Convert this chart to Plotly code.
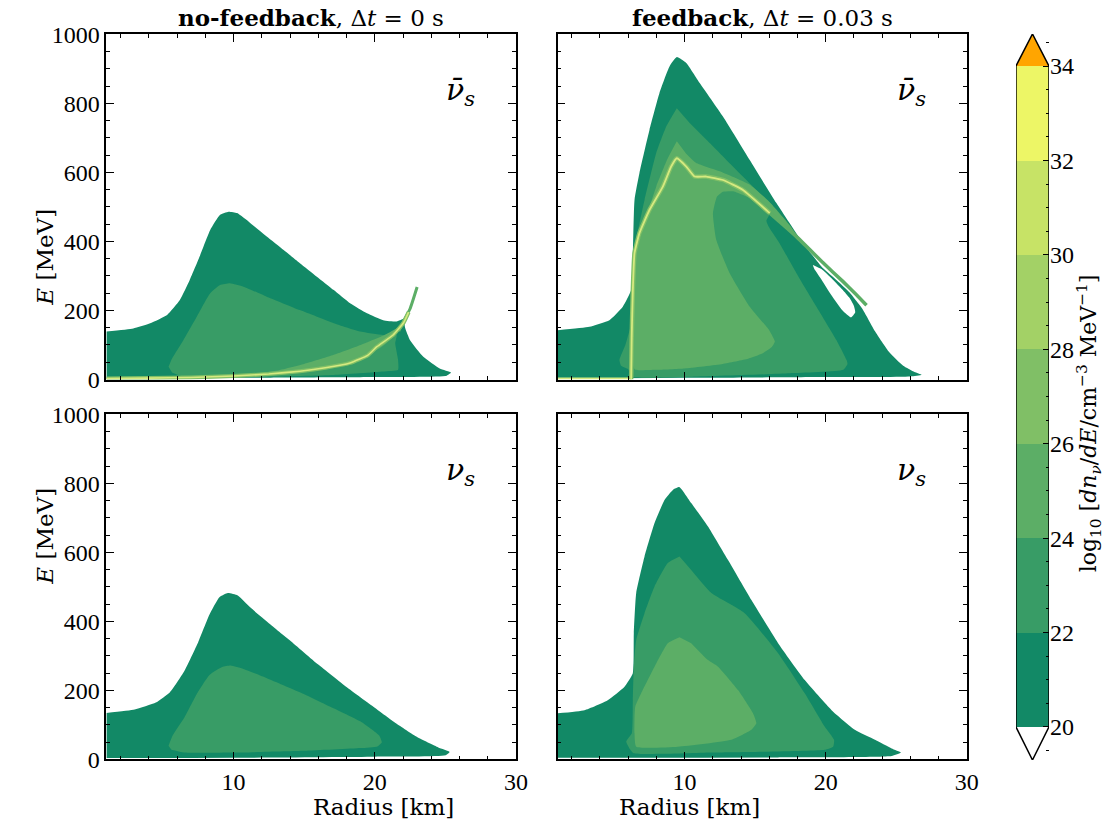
import plotly.graph_objects as go

TEXT_FONT = "DejaVu Serif"
TICK_FONT = "Liberation Serif"

# ---- colour scale (contour levels of log10 dn/dE) ----
LEVELS = [20, 22, 24, 26, 28, 30, 32]
LEVEL_COLORS = ['#128966', '#389c66', '#5cae66', '#80bf66', '#a3d166', '#c7e366', '#edf666']
OVER_COLOR = '#ffa500'
CB_TICKS = [20, 22, 24, 26, 28, 30, 32, 34]

# ---- panel titles / labels ----
COL_TITLES = ['<b>no-feedback</b>, Δ<i>t</i> = 0 s', '<b>feedback</b>, Δ<i>t</i> = 0.03 s']
ROW_LABELS = ['<i>ν\u0304</i><sub><i>s</i></sub>', '<i>ν</i><sub><i>s</i></sub>']

# ---- top-left: no-feedback, anti-nu_s ----
TL_L20_R = [1, 2.9, 4.1, 5.3, 6.2, 6.9, 7.6, 8.35, 9.05, 9.65, 10.25, 11.2, 12.35, 13.55, 14.7, 15.9, 17.1,
            18.25, 19.45, 20.6, 21.55, 22.05, 22.15, 22.5, 23.44, 24.6, 25.4, 25.1, 20, 12, 5, 1]
TL_L20_E = [139, 148, 163, 187, 230, 288, 356, 433, 477, 486, 482, 453, 414, 375, 337, 298, 259,
            221, 192, 172, 168, 175, 150, 114, 66, 32, 20, 11, 7, 5, 3, 2]
TL_L22_R = [5.4, 5.65, 6.45, 7.4, 8.35, 9.05, 9.75, 10.7, 12.35, 14.7, 17.1, 18.95, 20.6, 21.55, 21.45,
            21.65, 21.65, 20.6, 17.1, 12.35, 7.65, 6.45, 5.65]
TL_L22_E = [37, 61, 114, 182, 250, 274, 279, 269, 240, 201, 163, 139, 129, 129, 105,
            57, 28, 23, 13, 8, 6, 8, 20]
TL_L24_R = [7, 10, 13, 15, 17, 19, 20.5, 21.6, 22.05, 21.6, 20.5, 19, 17, 14.7, 12, 9, 7]
TL_L24_E = [5, 10, 25, 45, 70, 100, 125, 150, 172, 135, 95, 62, 38, 20, 12, 7, 5]
TL_RIDGE_R = [1, 4, 7, 10, 12.5, 14.7, 16.5, 18.25, 19.5, 20.15, 21.3, 22.05, 22.4]
TL_RIDGE_E = [3, 4, 6, 10, 16, 24, 34, 48, 70, 95, 129, 165, 195]
TL_SPIKE_R = [21.7, 22.05, 22.5, 23.0]
TL_SPIKE_E = [140, 170, 205, 268]

# ---- top-right: feedback, anti-nu_s ----
TR_L20_R = [1, 3.25, 4.67, 5.62, 6.21, 6.33, 6.45, 6.8, 7.51, 8.22, 8.93, 9.45, 10.12, 11.07, 12.72, 14.62,
            16.51, 18.4, 19.82, 20.8, 21.7, 22.6, 23.5, 24.5, 25.5, 26.3, 26.8, 26, 20, 10, 1]
TR_L20_E = [143, 153, 172, 211, 259, 356, 520, 598, 723, 830, 907, 934, 917, 859, 762, 636,
            511, 395, 322, 287, 252, 205, 140, 80, 40, 22, 14, 9, 7, 5, 3]
TR_HOLE_R = [19.1, 19.7, 20.5, 21.2, 21.7, 22.0, 22.1, 21.8, 21.2, 20.4, 19.7, 19.2, 19.1]
TR_HOLE_E = [332, 320, 290, 260, 236, 214, 195, 180, 200, 245, 290, 320, 330]
TR_L22_R = [9.45, 8.7, 7.99, 7.16, 6.57, 6.33, 6.29, 6.2, 5.8, 5.38, 5.5, 6.0, 6.3, 10.36, 17.46, 21.25,
            21.55, 21.48, 20.77, 19.35, 17.93, 16.8, 16.0, 15.8, 16.3, 15.56, 13.67, 11.78, 10.36]
TR_L22_E = [786, 733, 656, 520, 404, 308, 250, 160, 100, 57, 40, 30, 8, 8, 18, 28,
            45, 57, 114, 211, 308, 390, 440, 460, 500, 530, 607, 685, 743]
TR_L24_R = [9.45, 8.8, 8.0, 7.2, 6.6, 6.45, 6.4, 6.4, 6.45, 8, 10, 12.7, 14.5, 15.5, 16.2, 16.4, 16.0,
            14.62, 13.2, 12.25, 12.01, 12.3, 12.72, 13.5, 14.5, 15.5, 16.5, 17.5, 18.5, 17.5, 16.0, 14.6,
            12.7, 10.8, 10.1]
TR_L24_E = [690, 640, 560, 460, 370, 300, 200, 100, 30, 28, 32, 45, 60, 75, 95, 110, 143,
            211, 308, 404, 482, 530, 544, 545, 528, 500, 465, 425, 385, 445, 515, 565,
            600, 628, 655]
TR_RIDGE_R = [6.21, 6.25, 6.33, 6.45, 6.8, 7.51, 8.46, 9.05, 9.45, 10.12, 10.71, 11.54, 12.72, 14.14, 16.04]
TR_RIDGE_E = [0, 120, 259, 366, 424, 491, 559, 617, 641, 617, 588, 588, 578, 549, 482]
TR_SPIKE_R = [14.14, 16.04, 17.93, 19.82, 21.2, 22.2, 22.9]
TR_SPIKE_E = [549, 482, 414, 338, 285, 245, 215]
TR_BASE_R = [1, 6.2]
TR_BASE_E = [3, 3]

# ---- bottom-left: no-feedback, nu_s ----
BL_L20_R = [1, 3, 4.5, 5.5, 6.5, 7.5, 8.3, 9.0, 9.6, 10.3, 11.2, 12.5, 14, 16, 18, 20, 21.5, 23, 24.5,
            25.3, 25, 20, 10, 1]
BL_L20_E = [135, 145, 165, 195, 255, 340, 420, 470, 482, 475, 440, 395, 345, 275, 210, 150, 105, 65, 35,
            22, 12, 8, 5, 4]
BL_L22_R = [5.4, 5.7, 6.5, 7.4, 8.3, 9.2, 9.8, 10.7, 12.4, 14.7, 17, 19, 20.3, 20.5, 20.2, 19, 15, 10,
            6.5, 5.6]
BL_L22_E = [40, 70, 120, 190, 245, 268, 272, 262, 235, 195, 150, 110, 70, 50, 38, 33, 25, 20, 20, 28]

# ---- bottom-right: feedback, nu_s ----
BR_L20_R = [1, 2.9, 4.55, 5.74, 6.33, 6.4, 6.57, 7.16, 7.87, 8.58, 9.17, 9.64, 10.47, 11.66, 13.08, 14.74,
            16.63, 18.52, 20.42, 22.07, 23.5, 24.68, 25.34, 24.68, 16.6, 1]
BR_L20_E = [134, 143, 172, 211, 250, 366, 482, 588, 685, 752, 781, 789, 743, 675, 578, 462,
            337, 230, 143, 86, 57, 32, 20, 10, 6, 5]
BR_L22_R = [9.64, 8.81, 7.87, 7.16, 6.57, 6.4, 6.33, 6.26, 5.86, 6.09, 6.4, 11.9, 19.94, 20.53, 20.6,
            19.94, 18.52, 16.63, 14.26, 11.9, 10.47]
BR_L22_E = [588, 569, 501, 424, 346, 269, 172, 76, 52, 32, 18, 20, 28, 37, 57,
            95, 192, 308, 424, 482, 549]
BR_L24_R = [9.64, 8.81, 7.87, 6.92, 6.5, 6.45, 6.57, 9.52, 13.32, 14.74, 15.09, 14.85, 13.79, 12.37,
            11.66, 10.47]
BR_L24_E = [354, 337, 269, 192, 153, 76, 37, 37, 57, 86, 105, 134, 201, 269, 288, 337]

# ---------------- layout geometry ----------------
XD = [[0.0950, 0.4607], [0.4979, 0.8631]]
YD = [[0.5400, 0.9584], [0.0794, 0.4978]]

fig = go.Figure()


def poly(ax, R, E, color):
    fig.add_trace(go.Scatter(
        x=R, y=E, xaxis='x' + ax, yaxis='y' + ax, mode='lines', fill='toself',
        fillcolor=color, line=dict(width=0, color=color, shape='spline', smoothing=0.45),
        hoverinfo='skip', showlegend=False))


def curve(ax, R, E, color, width):
    fig.add_trace(go.Scatter(
        x=R, y=E, xaxis='x' + ax, yaxis='y' + ax, mode='lines',
        line=dict(width=width, color=color, shape='spline', smoothing=0.4),
        hoverinfo='skip', showlegend=False))


# TL
poly('', TL_L20_R, TL_L20_E, LEVEL_COLORS[0])
poly('', TL_L22_R, TL_L22_E, LEVEL_COLORS[1])
poly('', TL_L24_R, TL_L24_E, LEVEL_COLORS[2])
curve('', TL_SPIKE_R, TL_SPIKE_E, LEVEL_COLORS[2], 3)
curve('', TL_RIDGE_R, TL_RIDGE_E, LEVEL_COLORS[3], 4)
curve('', TL_RIDGE_R, TL_RIDGE_E, '#d6ea80', 1.6)
# TR
poly('2', TR_L20_R, TR_L20_E, LEVEL_COLORS[0])
poly('2', TR_HOLE_R, TR_HOLE_E, 'white')
poly('2', TR_L22_R, TR_L22_E, LEVEL_COLORS[1])
poly('2', TR_L24_R, TR_L24_E, LEVEL_COLORS[2])
curve('2', TR_SPIKE_R, TR_SPIKE_E, LEVEL_COLORS[2], 3.5)
curve('2', TR_BASE_R, TR_BASE_E, '#d6ea80', 2)
curve('2', TR_RIDGE_R, TR_RIDGE_E, LEVEL_COLORS[3], 4.5)
curve('2', TR_RIDGE_R, TR_RIDGE_E, '#d6ea80', 1.8)
# BL
poly('3', BL_L20_R, BL_L20_E, LEVEL_COLORS[0])
poly('3', BL_L22_R, BL_L22_E, LEVEL_COLORS[1])
# BR
poly('4', BR_L20_R, BR_L20_E, LEVEL_COLORS[0])
poly('4', BR_L22_R, BR_L22_E, LEVEL_COLORS[1])
poly('4', BR_L24_R, BR_L24_E, LEVEL_COLORS[2])

# ---------------- colour bar (own axis) ----------------
for lvl, col in zip(LEVELS, LEVEL_COLORS):
    fig.add_trace(go.Bar(x=[0.5], y=[2], base=[lvl], width=1, marker=dict(color=col, line=dict(width=0)),
                         xaxis='x5', yaxis='y5', hoverinfo='skip', showlegend=False))
CB_TOP = CB_TICKS[-1]
CB_BOT = CB_TICKS[0]
fig.add_trace(go.Scatter(x=[0, 0.5, 1, 0], y=[CB_TOP, CB_TOP + 0.68, CB_TOP, CB_TOP], fill='toself',
                         fillcolor=OVER_COLOR, mode='lines', line=dict(width=0),
                         xaxis='x5', yaxis='y5', hoverinfo='skip', showlegend=False))
fig.add_trace(go.Scatter(x=[0, 0, 0.5, 1, 1, 0.5, 0],
                         y=[CB_BOT, CB_TOP, CB_TOP + 0.68, CB_TOP, CB_BOT, CB_BOT - 0.7, CB_BOT],
                         mode='lines', line=dict(width=1.5, color='black'),
                         xaxis='x5', yaxis='y5', hoverinfo='skip', showlegend=False))

tickfont = dict(family=TICK_FONT, size=24, color='black')


def xax(dom, labels):
    return dict(domain=dom, range=[1, 30], tickvals=[10, 20, 30], ticks='inside', ticklen=8, tickwidth=1.2,
                tickcolor='black', showticklabels=labels, automargin=False,
                minor=dict(tick0=0, dtick=2, ticks='inside', ticklen=4, tickwidth=1, tickcolor='black'),
                showline=True, linecolor='black', linewidth=1.5, mirror='ticks', showgrid=False,
                zeroline=False, tickfont=tickfont)


def yax(dom, labels):
    return dict(domain=dom, range=[0, 1000], tick0=0, dtick=200, ticks='inside', ticklen=8, tickwidth=1.2,
                tickcolor='black', showticklabels=labels, automargin=False,
                minor=dict(tick0=0, dtick=50, ticks='inside', ticklen=4, tickwidth=1, tickcolor='black'),
                showline=True, linecolor='black', linewidth=1.5, mirror='ticks', showgrid=False,
                zeroline=False, tickfont=tickfont)


layout = dict(
    width=1120, height=825, margin=dict(l=0, r=0, t=0, b=0, autoexpand=False),
    paper_bgcolor='white', plot_bgcolor='white', barmode='overlay', bargap=0,
    font=dict(family=TEXT_FONT, color='black'),
    xaxis=dict(xax(XD[0], False), anchor='y'), yaxis=dict(yax(YD[0], True), anchor='x'),
    xaxis2=dict(xax(XD[1], False), anchor='y2'), yaxis2=dict(yax(YD[0], False), anchor='x2'),
    xaxis3=dict(xax(XD[0], True), anchor='y3'), yaxis3=dict(yax(YD[1], True), anchor='x3'),
    xaxis4=dict(xax(XD[1], True), anchor='y4'), yaxis4=dict(yax(YD[1], False), anchor='x4'),
    xaxis5=dict(domain=[0.9071, 0.9366], range=[0, 1], anchor='y5', visible=False, fixedrange=True),
    yaxis5=dict(domain=[0.0788, 0.9588], range=[19.3, 34.68], anchor='x5', side='right', automargin=False,
                tickvals=CB_TICKS, ticks='inside', ticklen=6, tickwidth=1.2, tickcolor='black',
                minor=dict(tick0=0, dtick=0.5, ticks='inside', ticklen=3, tickcolor='black'),
                showline=False, showgrid=False, zeroline=False, tickfont=tickfont),
)
fig.update_layout(**layout)

ann = []
for i, t in enumerate(COL_TITLES):
    ann.append(dict(text=t, x=sum(XD[i]) / 2, y=0.9584, xref='paper', yref='paper', xanchor='center',
                    yanchor='bottom', yshift=1, showarrow=False, font=dict(family=TEXT_FONT, size=23)))
for r, lab in enumerate(ROW_LABELS):
    for c in range(2):
        axn = ['', '2', '3', '4'][r * 2 + c]
        ann.append(dict(text=lab, x=24.9, y=835, xref='x' + axn, yref='y' + axn, xanchor='left',
                        showarrow=False, font=dict(family=TEXT_FONT, size=30)))
    ann.append(dict(text='<i>E</i> [MeV]', x=0.027, y=sum(YD[r]) / 2, xref='paper', yref='paper',
                    textangle=-90, showarrow=False, font=dict(family=TEXT_FONT, size=23)))
for c in range(2):
    ann.append(dict(text='Radius [km]', x=sum(XD[c]) / 2, y=0.0, xref='paper', yref='paper',
                    yanchor='bottom', yshift=3, showarrow=False, font=dict(family=TEXT_FONT, size=23)))
ann.append(dict(text='log<sub>10</sub> [<i>dn<sub>ν</sub></i>/<i>dE</i>/cm<sup>−3</sup> MeV<sup>−1</sup>]',
                x=0.9885, y=0.487, xref='paper', yref='paper', textangle=-90, showarrow=False,
                font=dict(family=TEXT_FONT, size=22)))
fig.update_layout(annotations=ann)

fig.write_html("out.html")
